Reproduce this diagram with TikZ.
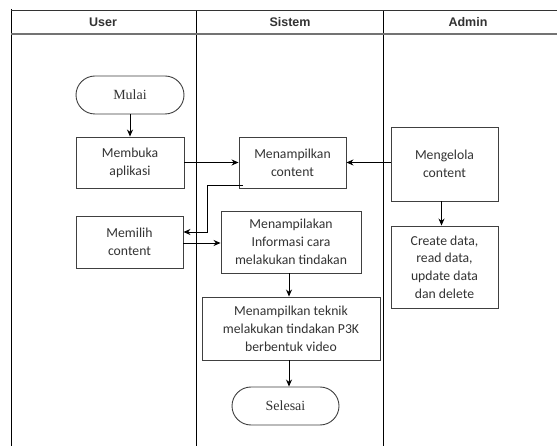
\documentclass[tikz,border=0pt]{standalone}
\usepackage{fontspec}
\setmainfont{Carlito}
\newfontfamily\hdrfont{Liberation Sans}
\newfontfamily\termfont{Liberation Serif}
\usetikzlibrary{arrows.meta,shapes.misc}
\begin{document}
\begin{tikzpicture}[x=1pt,y=-1pt,
  lane/.style={line width=0.9pt,black},
  hdr/.style={font=\hdrfont\bfseries\fontsize{12.5}{14}\selectfont,text=black!80},
  procbox/.style={draw=black!75,line width=0.9pt,align=center,inner sep=0pt,
    font=\fontsize{13.7}{17.8}\selectfont,text=black!80},
  termbox/.style={draw=black!75,line width=0.9pt,rounded rectangle,inner sep=0pt,
    minimum width=108pt,minimum height=38pt,font=\termfont\fontsize{14}{16}\selectfont,text=black!80},
  conn/.style={line width=0.9pt,-{Stealth[length=7pt,width=6pt]}}]
\useasboundingbox (0,0) rectangle (557,446);
\fill[white] (0,0) rectangle (557,446);
% swimlane frame
\draw[lane] (11,9) -- (11,446);
\draw[lane] (196,11) -- (196,446);
\draw[lane] (383,11) -- (383,446);
\draw[line width=1pt,black!80] (11,11) -- (557,11);
\draw[line width=1.6pt,black!55] (11,34) -- (557,34);
\node[hdr] (hU) at (103,22.5) {User};
\node[hdr] (hS) at (290,22.5) {Sistem};
\node[hdr] (hA) at (468,22.5) {Admin};
% nodes
\node[termbox] (mulai) at (130,95) {Mulai};
\node[procbox,minimum width=108pt,minimum height=51pt] (buka) at (130,162.5) {Membuka\\aplikasi};
\node[procbox,minimum width=107pt,minimum height=52pt] (pilih) at (129.5,242) {Memilih\\content};
\node[procbox,minimum width=107pt,minimum height=51pt] (tampil) at (292.5,162.5) {Menampilkan\\content};
\node[procbox,minimum width=107pt,minimum height=74pt] (kelola) at (444.5,164) {Mengelola\\content};
\node[procbox,minimum width=107pt,minimum height=82pt] (crud) at (444.5,267) {Create data,\\read data,\\update data\\dan delete};
\node[procbox,minimum width=140pt,minimum height=62pt] (info) at (291,242) {Menampilakan\\Informasi cara\\melakukan tindakan};
\node[procbox,minimum width=178pt,minimum height=63pt] (teknik) at (291,328.5) {Menampilkan teknik\\melakukan tindakan P3K\\berbentuk video};
\node[termbox,minimum width=107pt] (selesai) at (285.5,406) {Selesai};
% connectors
\draw[conn] (mulai.south) -- (buka.north);
\draw[conn] (buka.east) -- (tampil.west);
\coordinate (c1) at ([xshift=4pt,yshift=3pt]tampil.south west);
\coordinate (c2) at (207,232);
\draw[conn] (c1) -| (c2) -- (pilih.east |- c2);
\coordinate (c3) at (0,243);
\draw[conn] (pilih.east |- c3) -- (info.west |- c3);
\draw[conn] (kelola.west |- tampil.east) -- (tampil.east);
\draw[conn] ([xshift=-3pt]kelola.south) -- ([xshift=-3pt]crud.north);
\draw[conn] ([xshift=-2pt]info.south) -- ([xshift=-2pt]teknik.north);
\coordinate (c4) at ([xshift=-2pt]teknik.south);
\draw[conn] (c4) -- (selesai.north -| c4);
\end{tikzpicture}
\end{document}
